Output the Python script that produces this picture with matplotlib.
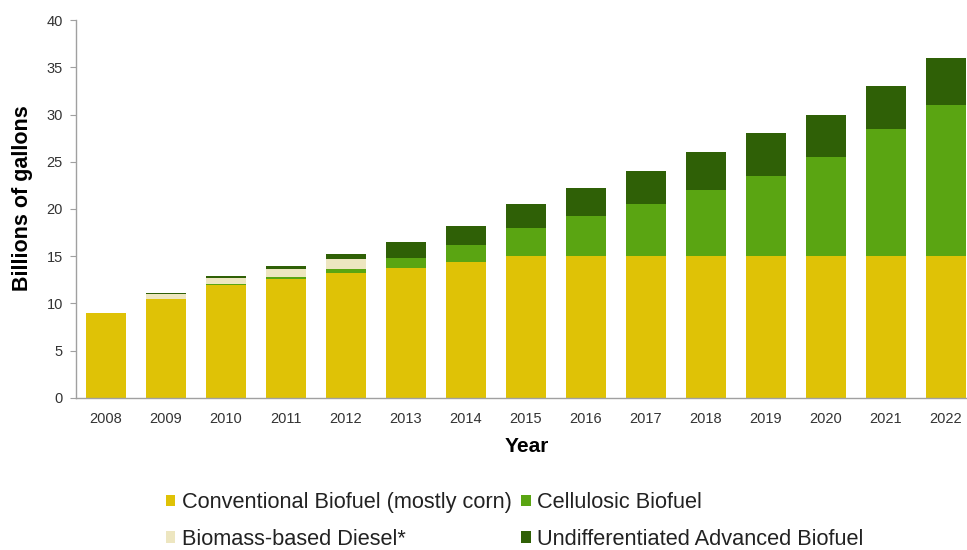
import matplotlib
matplotlib.use("Agg")
import matplotlib.pyplot as plt
import numpy as np

plt.rcParams['font.family'] = ['Liberation Sans', 'DejaVu Sans']

years = [2008, 2009, 2010, 2011, 2012, 2013, 2014, 2015,
         2016, 2017, 2018, 2019, 2020, 2021, 2022]
conventional = [9.0, 10.5, 12.0, 12.6, 13.2, 13.8, 14.4, 15.0,
                15.0, 15.0, 15.0, 15.0, 15.0, 15.0, 15.0]
cellulosic = [0.0, 0.0, 0.1, 0.25, 0.5, 1.0, 1.75, 3.0,
              4.25, 5.5, 7.0, 8.5, 10.5, 13.5, 16.0]
biomass_diesel = [0.0, 0.5, 0.65, 0.8, 1.0, 0.0, 0.0, 0.0,
                  0.0, 0.0, 0.0, 0.0, 0.0, 0.0, 0.0]
undifferentiated = [0.0, 0.1, 0.2, 0.3, 0.5, 1.75, 2.0, 2.5,
                    3.0, 3.5, 4.0, 4.5, 4.5, 4.5, 5.0]

series = [
    ("Conventional Biofuel (mostly corn)", conventional, "#DFC206"),
    ("Cellulosic Biofuel", cellulosic, "#5AA512"),
    ("Biomass-based Diesel*", biomass_diesel, "#EDE6C0"),
    ("Undifferentiated Advanced Biofuel", undifferentiated, "#2F6006"),
]

fig = plt.figure(figsize=(9.67, 5.5), dpi=100)
ax = fig.add_axes([0.0786, 0.2764, 0.9214, 0.6872])

x = np.array(years)
bottom = np.zeros(len(years))
handles = {}
for name, vals, color in series:
    vals = np.array(vals)
    h = ax.bar(x, vals, width=0.68, bottom=bottom, color=color,
               edgecolor='none', label=name)
    handles[name] = h
    bottom += vals

ax.set_xlim(2007.5, 2022.35)
ax.set_ylim(0, 40)
ax.set_yticks(range(0, 41, 5))
ax.set_xticks(years)
ax.set_xticklabels([str(y) for y in years])

for side in ['top', 'right']:
    ax.spines[side].set_visible(False)
for side in ['left', 'bottom']:
    ax.spines[side].set_color('#A0A0A0')
    ax.spines[side].set_linewidth(1.0)

ax.tick_params(axis='y', length=4.5, color='#A0A0A0', labelsize=10.5,
               labelcolor='#333333', pad=5)
ax.tick_params(axis='x', length=0, labelsize=10.5, labelcolor='#333333', pad=10)

ax.set_xlabel("Year", fontsize=15, fontweight='bold', va='center')
ax.xaxis.set_label_coords(0.5 + (527 - 521.5) / 891, -49 / 378)
ax.set_ylabel("Billions of gallons", fontsize=15.5, fontweight='bold',
              va='center')
ax.yaxis.set_label_coords(-(76 - 22) / 891, (398 - 198) / 378)

order = ["Conventional Biofuel (mostly corn)", "Biomass-based Diesel*",
         "Cellulosic Biofuel", "Undifferentiated Advanced Biofuel"]
fig.legend([handles[n] for n in order], order, ncol=2,
           loc='upper left', bbox_to_anchor=(0.1717, 0.1055),
           bbox_transform=fig.transFigure,
           frameon=False, fontsize=15.7, handlelength=0.42, handleheight=0.42,
           handletextpad=0.3, columnspacing=0.45, labelspacing=0.72,
           labelcolor='#222222', borderpad=0, borderaxespad=0)

fig.savefig("out.png", dpi=100)
